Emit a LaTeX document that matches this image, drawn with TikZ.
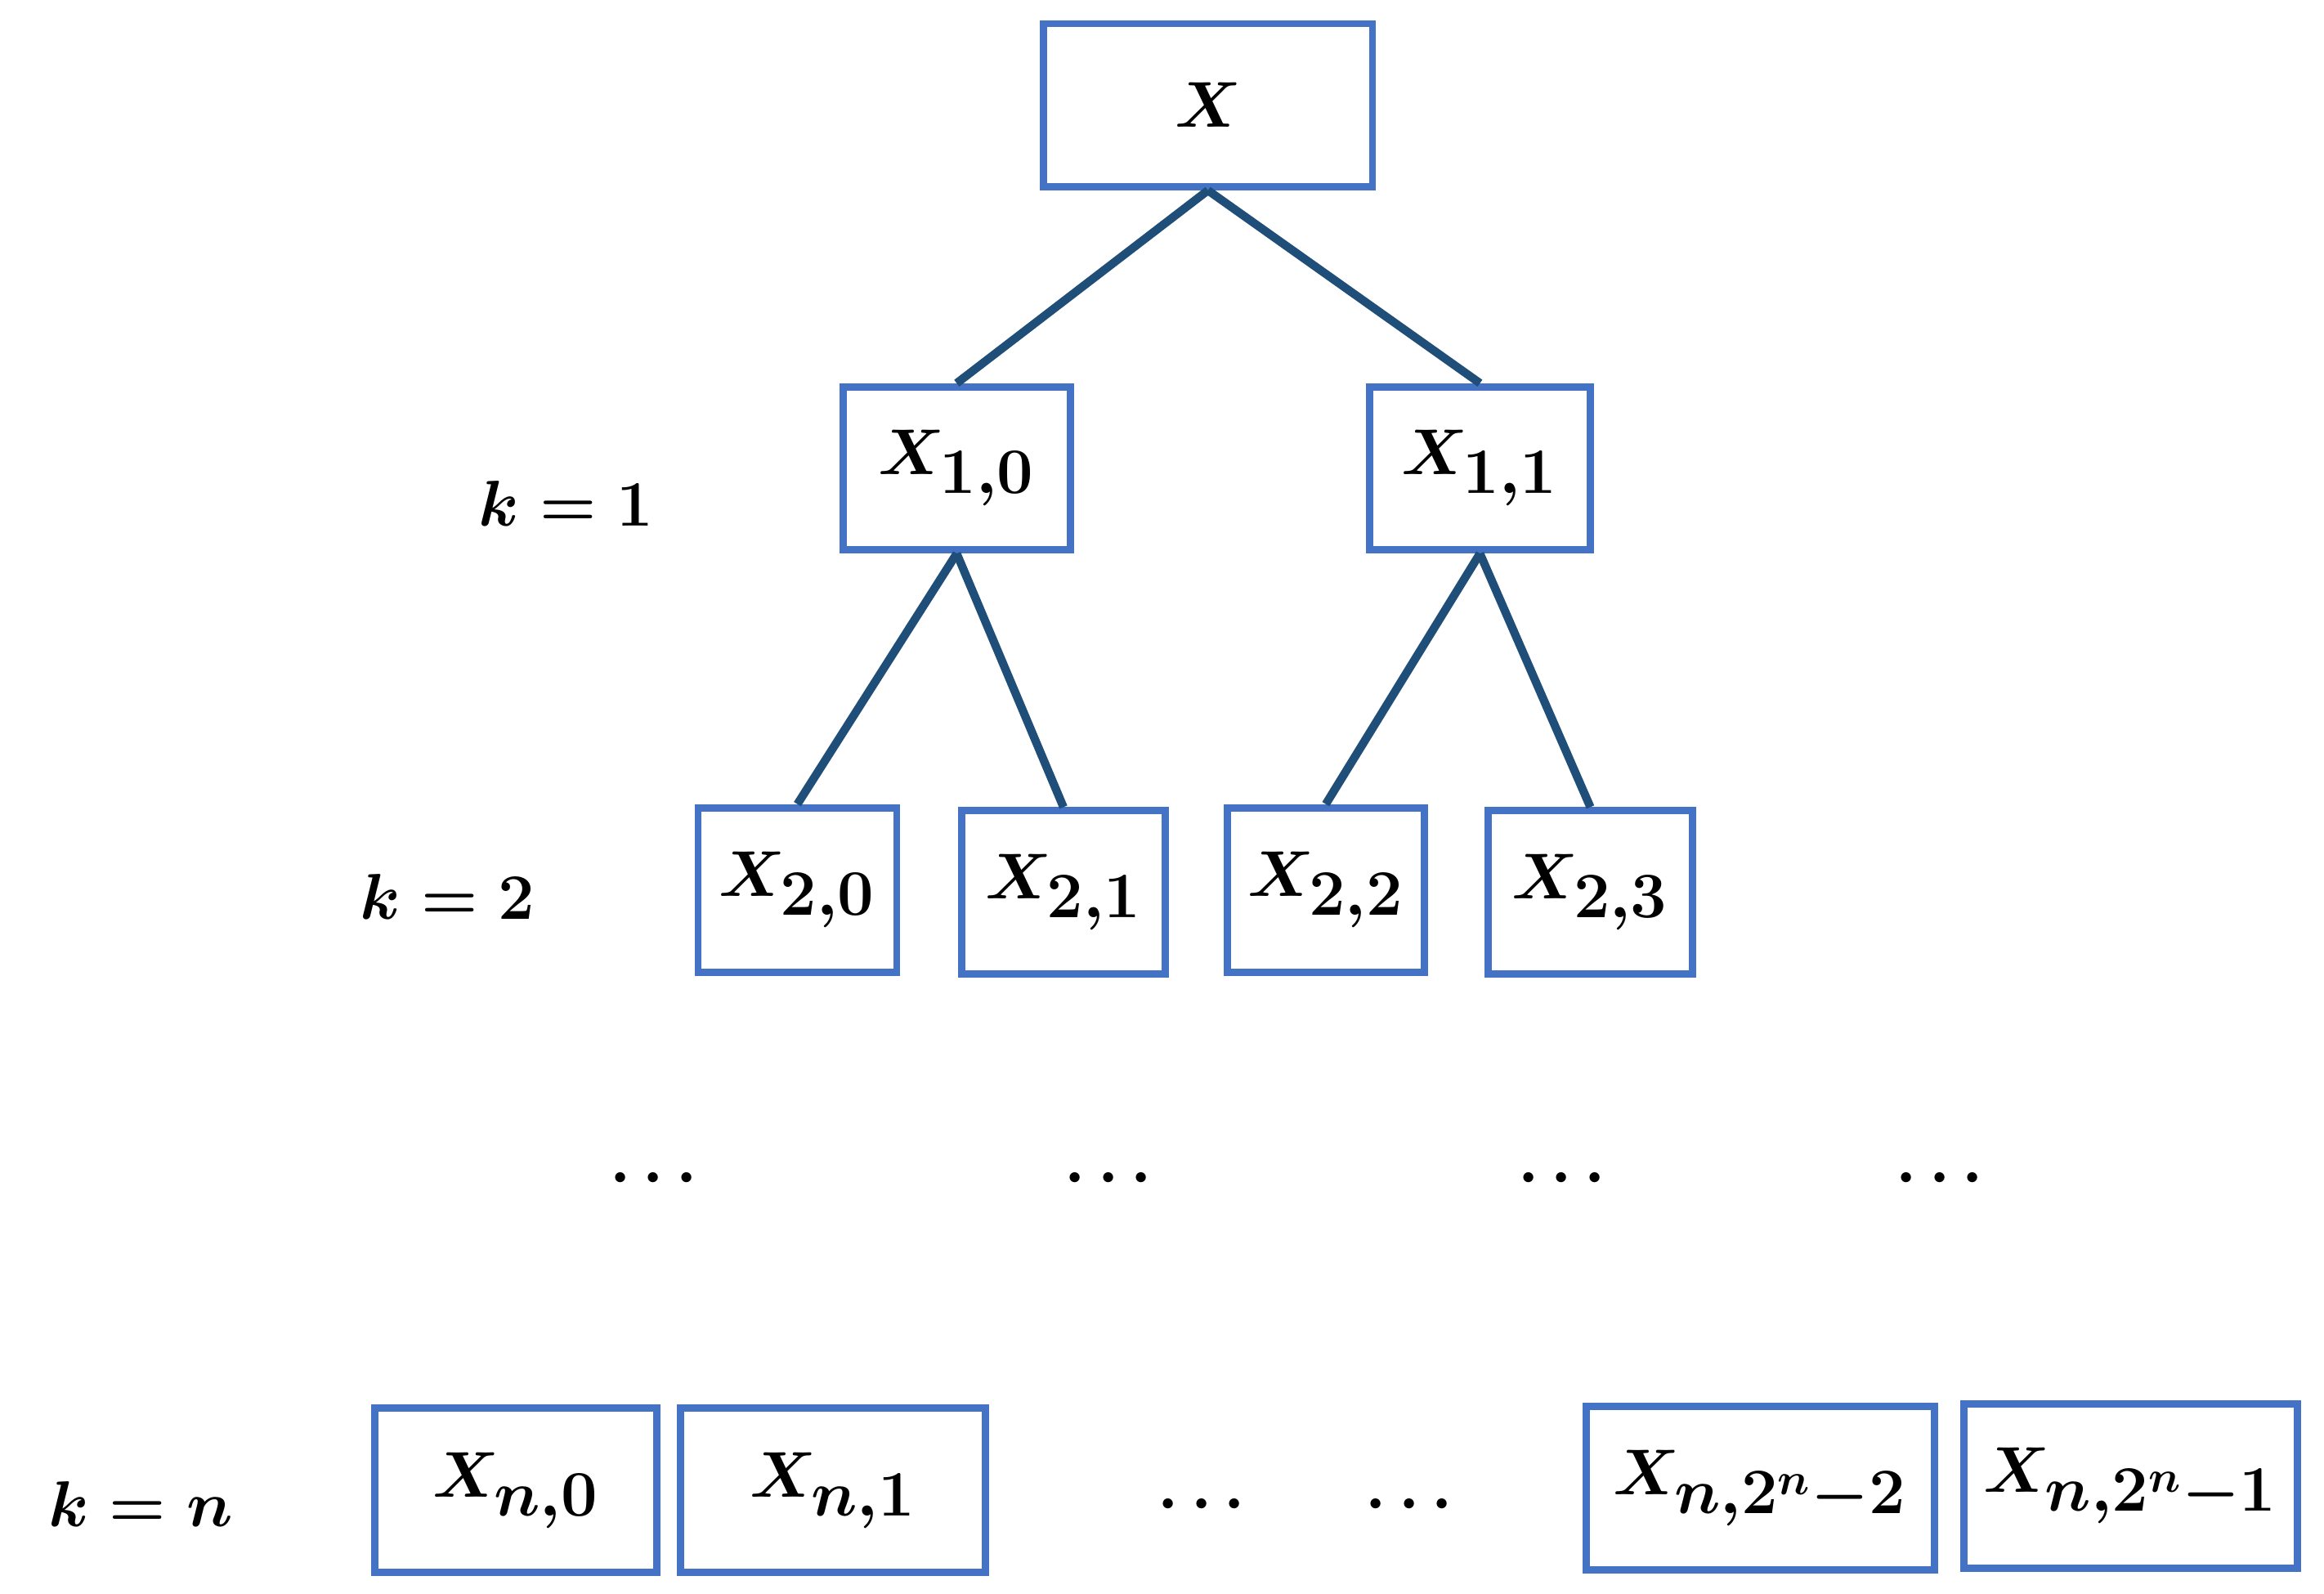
\documentclass[tikz,border=0pt]{standalone}
\usepackage{amsmath}
\begin{document}
\begin{tikzpicture}[x=0.02cm,y=-0.02cm,
  box/.style={draw=boxc,line width=2.8pt,inner sep=0pt,font=\fontsize{36}{42}\selectfont\boldmath},
  edge/.style={draw=edgec,line width=3.2pt},
  lab/.style={font=\fontsize{38}{44}\selectfont\boldmath}]
\definecolor{boxc}{RGB}{68,114,196}
\definecolor{edgec}{RGB}{31,78,121}
\useasboundingbox (0,0) rectangle (1568,1075);
\newcommand\bx[6]{\node[box,minimum width={(#4-#2)*0.02cm},minimum height={(#5-#3)*0.02cm}] (#1) at ({(#2+#4)/2},{(#3+#5)/2}) {$#6$};}
\bx{r}{704}{16}{926}{126}{X}
\bx{a}{569}{261}{722}{371}{X_{1,0}}
\bx{b}{924}{261}{1073}{371}{X_{1,1}}
\bx{c}{471}{545}{605}{656}{X_{2,0}}
\bx{d}{649}{547}{786}{657}{X_{2,1}}
\bx{e}{828}{545}{961}{656}{X_{2,2}}
\bx{f}{1004}{547}{1142}{657}{X_{2,3}}
\bx{g}{253}{950}{443}{1061}{X_{n,0}}
\bx{h}{459}{950}{665}{1061}{X_{n,1}}
\bx{i}{1070}{949}{1305}{1059}{X_{n,2^n-2}}
\bx{j}{1325}{947}{1550}{1058}{X_{n,2^n-1}}
\draw[edge] (r.south) -- (a.north);
\draw[edge] (r.south) -- (b.north);
\draw[edge] (a.south) -- (c.north);
\draw[edge] (a.south) -- (d.north);
\draw[edge] (b.south) -- (e.north);
\draw[edge] (b.south) -- (f.north);
\node[lab] (k1) at (382,340) {$k=1$};
\node[lab] (k2) at (302,605) {$k=2$};
\node[lab] (kn) at (95,1015) {$k=n$};
\foreach \x/\n in {445/d1,752/d2,1058/d3,1313/d4}{\node[lab,font=\fontsize{50}{56}\selectfont\boldmath] (\n) at (\x,795) {$\cdots$};}
\node[lab,font=\fontsize{50}{56}\selectfont\boldmath] (d5) at (815,1015) {$\cdots$};
\node[lab,font=\fontsize{50}{56}\selectfont\boldmath] (d6) at (955,1015) {$\cdots$};
\end{tikzpicture}
\end{document}
